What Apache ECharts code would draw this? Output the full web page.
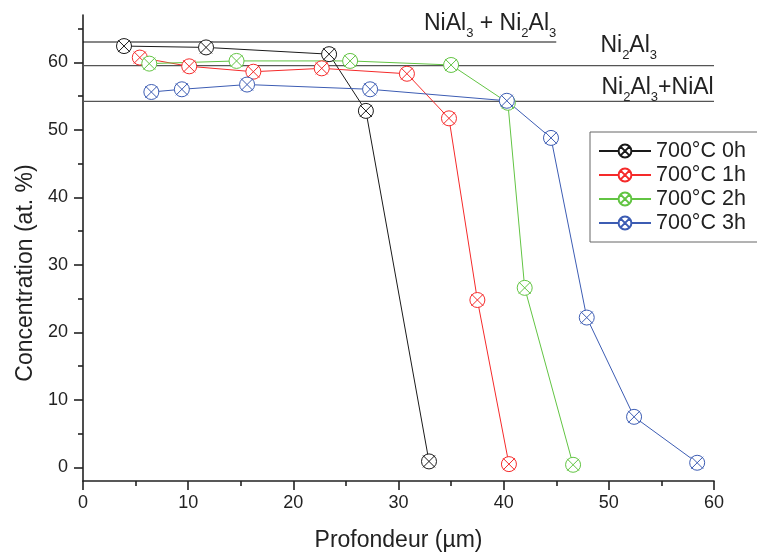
<!DOCTYPE html>
<html>
<head>
    <meta charset="utf-8">
    <title>Concentration vs profondeur</title>
    <script src="https://cdn.jsdelivr.net/npm/echarts@6/dist/echarts.min.js"></script>
    <style>
        html, body { margin: 0; padding: 0; background: #fff; }
        #chart-container { width: 757px; height: 554px; }
    </style>
</head>
<body>
<div id="chart-container"></div>
<script>
    const chartDom = document.getElementById('chart-container');
    const myChart = echarts.init(chartDom);

    // series (x = profondeur µm, y = concentration at.%)
    const names = ['700°C 0h', '700°C 1h', '700°C 2h', '700°C 3h'];
    const colors = ['#1a1a1a', '#f52a2a', '#62c443', '#3c5cb3'];

    const x0h = [3.9, 11.7, 23.4, 26.9, 32.9];
    const y0h = [62.4, 62.2, 61.2, 52.8, 0.9];
    const x1h = [5.4, 10.1, 16.2, 22.7, 30.8, 34.8, 37.5, 40.5];
    const y1h = [60.7, 59.4, 58.6, 59.1, 58.3, 51.7, 24.8, 0.5];
    const x2h = [6.3, 14.6, 25.4, 35.0, 40.4, 42.0, 46.6];
    const y2h = [59.8, 60.2, 60.2, 59.6, 54.0, 26.6, 0.4];
    const x3h = [6.5, 9.4, 15.6, 27.3, 40.3, 44.5, 47.9, 52.4, 58.4];
    const y3h = [55.6, 56.0, 56.7, 56.0, 54.3, 48.8, 22.2, 7.5, 0.7];

    // phase boundary lines
    const phaseLevels = [63.0, 59.5, 54.2];
    const phaseEnds = [45, 60, 60];
    const phaseColors = ['#111', '#555', '#555'];
    const phaseLabels = [
        'NiAl{s|3} + Ni{s|2}Al{s|3}',
        'Ni{s|2}Al{s|3}',
        'Ni{s|2}Al{s|3}+NiAl'
    ];

    const yMajor = [0, 10, 20, 30, 40, 50, 60];
    const yMinor = [5, 15, 25, 35, 45, 55, 65];

    const xs = [x0h, x1h, x2h, x3h];
    const ys = [y0h, y1h, y2h, y3h];

    // circle with a cross
    const crossCircle = 'path://M2,10 A8,8 0 1,1 18,10 A8,8 0 1,1 2,10 Z M3.6,3.6 L16.4,16.4 M16.4,3.6 L3.6,16.4';
    const font = "'Liberation Sans', Arial, sans-serif";

    const series = [];
    phaseLevels.forEach((lv, i) => {
        series.push({
            name: 'phase' + i,
            type: 'line',
            silent: true,
            symbol: 'none',
            z: 1,
            lineStyle: { color: phaseColors[i], width: 1.2 },
            data: [[0, lv], [phaseEnds[i], lv]]
        });
    });
    names.forEach((n, i) => {
        series.push({
            name: n,
            type: 'line',
            z: 3,
            symbol: crossCircle,
            symbolSize: 15,
            lineStyle: { color: colors[i], width: 1 },
            itemStyle: { color: '#fff', borderColor: colors[i], borderWidth: 1 },
            data: xs[i].map((x, k) => [x, ys[i][k]])
        });
    });

    const option = {
        animation: false,
        textStyle: { fontFamily: font },
        grid: { left: 83, right: 43, top: 15, bottom: 73, containLabel: false, outerBoundsMode: 'none' },
        legend: {
            data: names,
            orient: 'vertical',
            left: 590,
            top: 132,
            padding: [8, 30, 8, 8],
            itemGap: 2,
            itemWidth: 52,
            itemHeight: 16,
            borderColor: '#666',
            borderWidth: 1,
            borderRadius: 0,
            textStyle: { fontSize: 21.5, color: '#222', fontFamily: font, lineHeight: 22 }
        },
        xAxis: {
            type: 'value',
            min: 0,
            max: 60,
            interval: 10,
            name: 'Profondeur (µm)',
            nameLocation: 'middle',
            nameGap: 48,
            nameTextStyle: { fontSize: 23, color: '#222', fontFamily: font },
            axisLine: { onZero: false, lineStyle: { color: '#222', width: 1.6 } },
            axisTick: { length: 9, lineStyle: { color: '#222', width: 1.6 } },
            minorTick: { show: true, splitNumber: 2, length: 5, lineStyle: { color: '#222', width: 1.6 } },
            splitLine: { show: false },
            axisLabel: { fontSize: 18, color: '#222', margin: 13, fontFamily: font }
        },
        yAxis: [
            {
                type: 'value',
                position: 'left',
                min: -2,
                max: 67,
                name: 'Concentration (at. %)',
                nameLocation: 'middle',
                nameGap: 46,
                nameTextStyle: { fontSize: 23, color: '#222', fontFamily: font, padding: [0, 50, 0, 0] },
                axisLine: { show: true, lineStyle: { color: '#222', width: 1.6 } },
                axisTick: { show: true, length: 9, customValues: yMajor, lineStyle: { color: '#222', width: 1.6 } },
                axisLabel: { fontSize: 18, color: '#222', margin: 15, customValues: yMajor, fontFamily: font },
                splitLine: { show: false }
            },
            {
                type: 'value',
                position: 'left',
                min: -2,
                max: 67,
                axisLine: { show: false },
                axisTick: { show: true, length: 5, customValues: yMinor, lineStyle: { color: '#222', width: 1.6 } },
                axisLabel: { show: false },
                splitLine: { show: false }
            }
        ],
        series: series
    };

    myChart.setOption(option);

    // phase labels placed relative to their boundary lines
    const labelAnchor = [
        { x: 45, align: 'right', dy: -29 },
        { x: 49.2, align: 'left', dy: -31 },
        { x: 49.3, align: 'left', dy: -25 }
    ];
    function placeLabels() {
        const elements = phaseLabels.map((t, i) => {
            const p = myChart.convertToPixel({ xAxisIndex: 0, yAxisIndex: 0 }, [labelAnchor[i].x, phaseLevels[i]]);
            return {
                type: 'text',
                x: p[0],
                y: p[1] + labelAnchor[i].dy,
                silent: true,
                style: {
                    text: t,
                    fill: '#222',
                    textAlign: labelAnchor[i].align,
                    align: labelAnchor[i].align,
                    textVerticalAlign: 'top',
                    verticalAlign: 'top',
                    font: '23px ' + font,
                    lineHeight: 22,
                    rich: {
                        s: { fontSize: 13, verticalAlign: 'top', padding: [14, 0, 0, 0], fill: '#222', fontFamily: font }
                    }
                }
            };
        });
        myChart.setOption({ graphic: elements });
    }
    placeLabels();

    window.addEventListener('resize', function () {
        myChart.resize();
        placeLabels();
    });
</script>
</body>
</html>
